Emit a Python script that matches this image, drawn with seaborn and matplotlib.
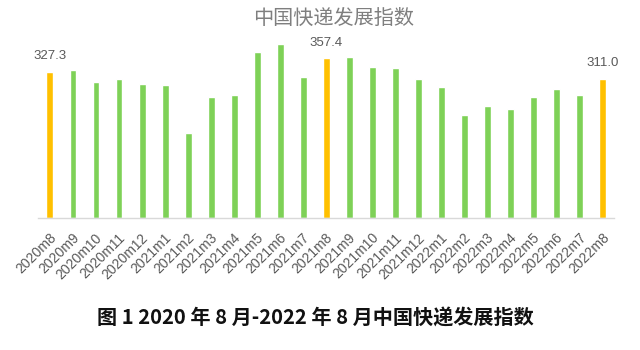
import matplotlib
matplotlib.use("Agg")
import matplotlib.pyplot as plt
import matplotlib.transforms as mtransforms
import seaborn as sns
import pandas as pd

# Monthly China express delivery development index, Aug 2020 - Aug 2022
months = [
    "2020m8", "2020m9", "2020m10", "2020m11", "2020m12",
    "2021m1", "2021m2", "2021m3", "2021m4", "2021m5", "2021m6", "2021m7",
    "2021m8", "2021m9", "2021m10", "2021m11", "2021m12",
    "2022m1", "2022m2", "2022m3", "2022m4", "2022m5", "2022m6", "2022m7",
    "2022m8",
]
index_values = [
    327.3, 331.0, 303.4, 311.5, 299.0,
    297.4, 190.0, 270.0, 275.7, 370.5, 389.7, 316.0,
    357.4, 360.0, 337.0, 334.7, 311.5,
    293.0, 230.3, 251.0, 243.0, 270.0, 288.4, 275.7,
    311.0,
]
# August months are highlighted and labelled
highlight = ["2020m8", "2021m8", "2022m8"]

GREEN = "#7ed157"
GOLD = "#ffc000"

df = pd.DataFrame({"month": months, "value": index_values})
df["group"] = ["hl" if m in highlight else "base" for m in months]

sns.set_theme(style="white")
plt.rcParams["font.family"] = ["Liberation Sans", "Noto Sans CJK SC", "DejaVu Sans"]

fig = plt.figure(figsize=(6.4, 3.5), dpi=100)
ax = fig.add_axes([0.06, 0.377, 0.9, 0.511])

sns.barplot(
    data=df, x="month", y="value", hue="group",
    palette={"base": GREEN, "hl": GOLD},
    width=0.3, dodge=False, legend=False, ax=ax, saturation=1,
)

ax.set_ylim(0, 400)
ax.set_xlim(-0.5, len(months) - 0.5)
ax.set_xlabel("")
ax.set_ylabel("")
ax.set_yticks([])
for side in ["top", "left", "right"]:
    ax.spines[side].set_visible(False)
ax.spines["bottom"].set_color("#d9d9d9")
ax.spines["bottom"].set_linewidth(1.0)

ax.tick_params(axis="x", length=0, pad=9, labelsize=10, labelcolor="#595959")
shift = mtransforms.ScaledTranslation(4 / 100, -5 / 100, fig.dpi_scale_trans)
for lbl in ax.get_xticklabels():
    lbl.set_rotation(45)
    lbl.set_ha("right")
    lbl.set_va("center")
    lbl.set_rotation_mode("anchor")
    lbl.set_transform(lbl.get_transform() + shift)

for i, (m, v) in enumerate(zip(months, index_values)):
    if m in highlight:
        ax.annotate(f"{v:.1f}", (i, v), xytext=(0, 7), textcoords="offset points",
                    ha="center", va="bottom", fontsize=9.5, color="#595959")

fig.text(0.521, 0.947, "中国快递发展指数", ha="center", va="center",
         fontsize=14.5, color="#7f7f7f", family=["Noto Sans CJK SC", "DejaVu Sans"])

fig.text(0.492, 0.09, "图 1 2020 年 8 月-2022 年 8 月中国快递发展指数",
         ha="center", va="center", fontsize=14.5, fontweight="bold",
         color="#111111", family=["Noto Sans CJK SC", "DejaVu Sans"])

fig.savefig("out.png", dpi=100, facecolor="white")
